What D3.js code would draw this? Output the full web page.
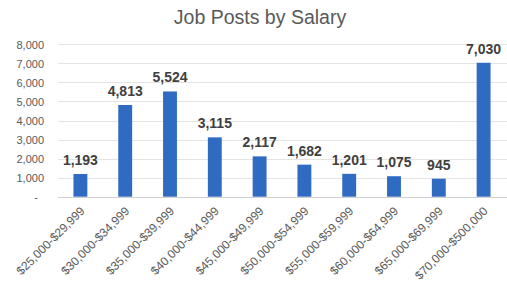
<!DOCTYPE html>
<html lang="en">
<head>
  <meta charset="utf-8">
  <title>Job Posts by Salary</title>
  <script src="https://cdn.jsdelivr.net/npm/d3@7"></script>
  <style>
    body { margin: 0; background: #fff; }
    text { font-family: "Liberation Sans", Arial, sans-serif; }
  </style>
</head>
<body>
<script>
  // data
  var salaryRanges = ["$25,000-$29,999", "$30,000-$34,999", "$35,000-$39,999", "$40,000-$44,999",
    "$45,000-$49,999", "$50,000-$54,999", "$55,000-$59,999", "$60,000-$64,999",
    "$65,000-$69,999", "$70,000-$500,000"];
  var jobPosts = [1193, 4813, 5524, 3115, 2117, 1682, 1201, 1075, 945, 7030];
  var yTicks = [0, 1000, 2000, 3000, 4000, 5000, 6000, 7000, 8000];

  var w = 507, h = 285;
  // plot box (don't call it "top", that's window.top)
  var plotLeft = 58, plotRight = 506, plotTop = 44.3, plotBottom = 196.7;

  var svg = d3.select("body").append("svg")
    .attr("width", w)
    .attr("height", h);

  var x = d3.scaleBand()
    .domain(salaryRanges)
    .range([plotLeft, plotRight])
    .paddingInner(0.69)
    .paddingOuter(0.345);

  var y = d3.scaleLinear()
    .domain([0, 8000])
    .range([plotBottom, plotTop]);

  // gridlines
  svg.append("g")
    .selectAll("line")
    .data(yTicks)
    .enter()
    .append("line")
    .attr("x1", plotLeft)
    .attr("x2", w)
    .attr("y1", function (d) { return Math.round(y(d)) + 0.5; })
    .attr("y2", function (d) { return Math.round(y(d)) + 0.5; })
    .attr("stroke", function (d) { return d === 0 ? "#d0d0d0" : "#e4e4e4"; })
    .attr("stroke-width", 1);

  // y axis labels
  var yAxis = d3.axisLeft(y)
    .tickValues(yTicks)
    .tickSize(0)
    .tickPadding(0)
    .tickFormat(function (d) { return d === 0 ? "-" : d3.format(",")(d); });

  var gy = svg.append("g")
    .attr("transform", "translate(44,0)")
    .call(yAxis);
  gy.select(".domain").remove();
  gy.selectAll("text")
    .attr("fill", "#595959")
    .attr("font-size", "11px")
    .attr("dy", "0.35em");
  gy.selectAll(".tick").filter(function (d) { return d === 0; })
    .select("text").attr("dx", "-6px");

  // bars
  svg.append("g")
    .selectAll("rect")
    .data(jobPosts)
    .enter()
    .append("rect")
    .attr("x", function (d, i) { return x(salaryRanges[i]); })
    .attr("y", function (d) { return y(d); })
    .attr("width", x.bandwidth())
    .attr("height", function (d) { return plotBottom - y(d); })
    .attr("fill", "#2e6bc1");

  // value labels
  svg.append("g")
    .selectAll("text")
    .data(jobPosts)
    .enter()
    .append("text")
    .attr("x", function (d, i) { return x(salaryRanges[i]) + x.bandwidth() / 2; })
    .attr("y", function (d) { return y(d) - 9; })
    .attr("text-anchor", "middle")
    .attr("font-size", "14px")
    .attr("font-weight", "bold")
    .attr("fill", "#404040")
    .text(function (d) { return d3.format(",")(d); });

  // x axis labels, slanted
  var xAxis = d3.axisBottom(x).tickSize(0).tickPadding(0);
  var gx = svg.append("g")
    .attr("transform", "translate(0," + plotBottom + ")")
    .call(xAxis);
  gx.select(".domain").remove();
  gx.selectAll("text")
    .attr("fill", "#595959")
    .attr("font-size", "12px")
    .attr("text-anchor", "end")
    .attr("transform", "translate(2,12) rotate(-45)")
    .attr("dy", "0.35em")
    .attr("y", 0);

  // title
  svg.append("text")
    .attr("x", 260)
    .attr("y", 24)
    .attr("text-anchor", "middle")
    .attr("font-size", "19.5px")
    .attr("fill", "#595959")
    .text("Job Posts by Salary");
</script>
</body>
</html>
